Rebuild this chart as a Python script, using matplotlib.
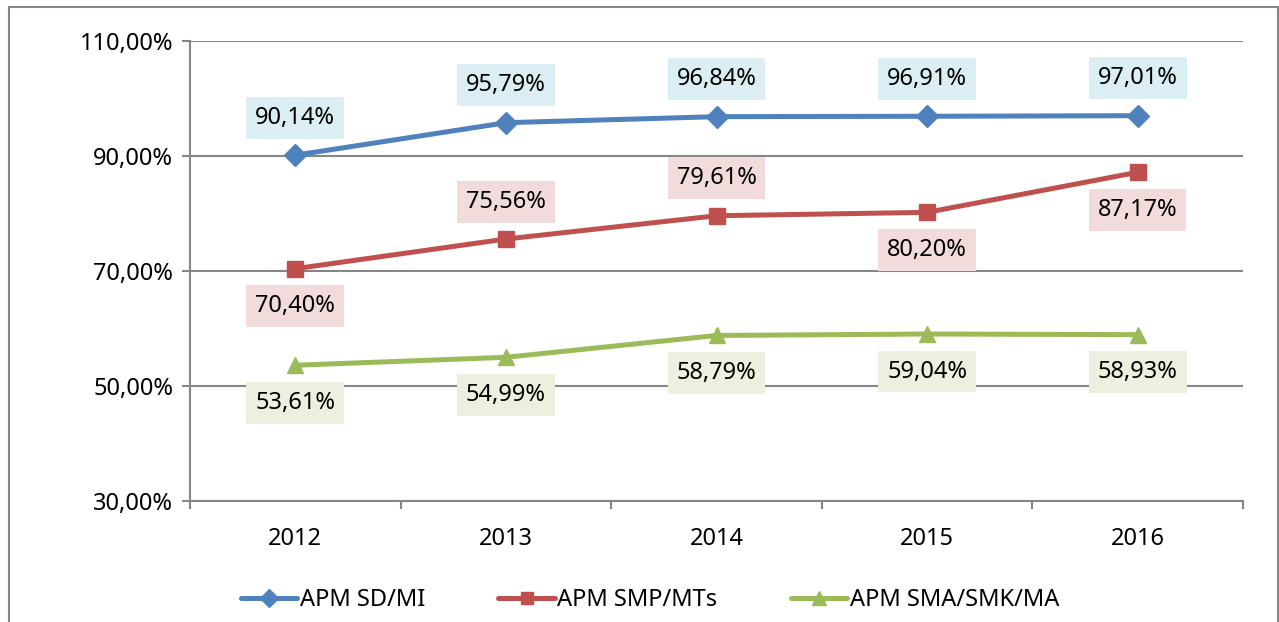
import matplotlib.pyplot as plt
from matplotlib.patches import Rectangle
from matplotlib.ticker import FixedLocator, FuncFormatter

plt.rcParams['font.family'] = ['Noto Sans', 'DejaVu Sans']

years = ["2012", "2013", "2014", "2015", "2016"]
sd_mi = [90.14, 95.79, 96.84, 96.91, 97.01]
smp_mts = [70.40, 75.56, 79.61, 80.20, 87.17]
sma_smk = [53.61, 54.99, 58.79, 59.04, 58.93]

# label above (+1) or below (-1) the point
sd_pos = [1, 1, 1, 1, 1]
smp_pos = [-1, 1, 1, -1, -1]
sma_pos = [-1, -1, -1, -1, -1]

series = [
    ("APM SD/MI", sd_mi, sd_pos, "#4F81BD", "D", 11, "#DAEEF3"),
    ("APM SMP/MTs", smp_mts, smp_pos, "#C0504D", "s", 11, "#F2DCDB"),
    ("APM SMA/SMK/MA", sma_smk, sma_pos, "#9BBB59", "^", 12, "#EBF1DE"),
]

fig = plt.figure(figsize=(12.79, 6.22), dpi=100)
ax = fig.add_axes([190 / 1279, 1 - 501 / 622, 1053 / 1279, 460 / 622])

x = list(range(len(years)))
for name, vals, pos, col, mk, ms, bg in series:
    ax.plot(x, vals, color=col, lw=3.6, marker=mk, markersize=ms,
            label=name, zorder=3, solid_capstyle="round")
    for xi, v, p in zip(x, vals, pos):
        txt = f"{v:.2f}%".replace(".", ",")
        ax.annotate(txt, (xi, v), xytext=(0, 27 * p), textcoords="offset points",
                    ha="center", va="center", fontsize=17, color="black",
                    bbox=dict(boxstyle="square,pad=0.38", fc=bg, ec="none"),
                    zorder=4)

ax.set_xlim(-0.5, 4.5)
ax.set_ylim(30, 110)
ax.set_yticks([30, 50, 70, 90, 110])
ax.yaxis.set_major_formatter(FuncFormatter(lambda v, _: f"{v:.2f}%".replace(".", ",")))
ax.set_xticks(x)
ax.set_xticklabels(years)
ax.xaxis.set_minor_locator(FixedLocator([-0.5, 0.5, 1.5, 2.5, 3.5, 4.5]))
ax.tick_params(axis="x", which="major", length=0, pad=19, labelsize=17)
ax.tick_params(axis="x", which="minor", length=6, width=1.5, color="#868686", direction="out")
ax.tick_params(axis="y", length=6, width=1.5, color="#868686", direction="out",
               labelsize=17, pad=6)

ax.grid(axis="y", color="#868686", lw=1.5)
ax.set_axisbelow(True)
for s in ["top", "right"]:
    ax.spines[s].set_visible(False)
for s in ["left", "bottom"]:
    ax.spines[s].set_color("#868686")
    ax.spines[s].set_linewidth(1.5)

fig.legend(loc="center", bbox_to_anchor=(650 / 1279, 1 - 600 / 622), ncol=3,
           frameon=False, fontsize=17, handlelength=2.4, handletextpad=0.1,
           columnspacing=3.1, markerscale=0.85)

fig.patches.append(Rectangle((9 / 1279, -0.05), 1269 / 1279, 1.05 - 7 / 622,
                             transform=fig.transFigure, fill=False,
                             ec="#868686", lw=1.5))

fig.savefig("out.png", dpi=100)
